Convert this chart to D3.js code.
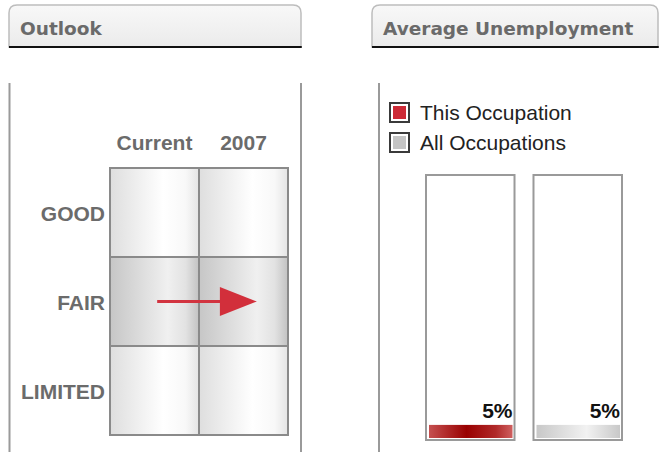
<!DOCTYPE html>
<html>
<head>
<meta charset="utf-8">
<script src="https://cdn.jsdelivr.net/npm/d3@7"></script>
<style>
  body { margin: 0; background: #fff; }
  .tab-title { font-family: "DejaVu Sans", sans-serif; font-weight: bold; font-size: 18.5px; fill: #6a6a6a; }
  .grid-label { font-family: "Liberation Sans", Arial, sans-serif; font-weight: bold; font-size: 21px; fill: #6b6b6b; }
  .legend-label { font-family: "Liberation Sans", Arial, sans-serif; font-size: 21px; fill: #222; }
  .value-label { font-family: "Liberation Sans", Arial, sans-serif; font-weight: bold; font-size: 21px; fill: #111; }
</style>
</head>
<body>
<script>
// Outlook grid
const outlookColumns = ["Current", "2007"];
const outlookRows = ["GOOD", "FAIR", "LIMITED"];
const outlookRatings = ["FAIR", "FAIR"]; // one per column

// Average unemployment
const unemploymentSeries = ["This Occupation", "All Occupations"];
const unemploymentValues = [5, 5];
const unemploymentLabels = ["5%", "5%"];
const unemploymentColors = ["#cc2a36", "#c4c4c4"];

const svg = d3.select('body')
  .append('svg')
  .attr('width', 660)
  .attr('height', 452);

const defs = svg.append('defs');

function addGradient(id, stops, vertical) {
  const grad = defs.append('linearGradient')
    .attr('id', id)
    .attr('x1', 0).attr('y1', 0)
    .attr('x2', vertical ? 0 : 1).attr('y2', vertical ? 1 : 0);
  stops.forEach(s => {
    grad.append('stop').attr('offset', s[0]).attr('stop-color', s[1]);
  });
}

addGradient('tabGrad', [[0, '#f8f8f8'], [1, '#ebebeb']], true);
addGradient('cellGrad', [[0, '#dedede'], [0.6, '#ffffff'], [0.85, '#f8f8f8'], [1, '#e4e4e4']]);
addGradient('cellHiGrad', [[0, '#c6c6c6'], [0.65, '#f0f0f0'], [0.85, '#e2e2e2'], [1, '#c2c2c2']]);
addGradient('fill0', [[0, '#c55050'], [0.45, '#990000'], [0.8, '#b02a2a'], [1, '#cf6060']]);
addGradient('fill1', [[0, '#c8c8c8'], [0.6, '#f2f2f2'], [1, '#c8c8c8']]);

drawTab(9, 301, "Outlook");
drawTab(372, 658, "Average Unemployment");
drawOutlook();
drawUnemployment();

function drawTab(x0, x1, title) {
  const top = 5, bottom = 47, r = 8;
  const path = `M${x0},${bottom} L${x0},${top + r} Q${x0},${top} ${x0 + r},${top} ` +
    `L${x1 - r},${top} Q${x1},${top} ${x1},${top + r} L${x1},${bottom}`;

  svg.append('path')
    .attr('d', path + 'Z')
    .attr('fill', 'url(#tabGrad)')
    .attr('stroke', '#bdbdbd')
    .attr('stroke-width', 1.5);

  svg.append('line')
    .attr('x1', x0).attr('x2', x1 + 0.75)
    .attr('y1', bottom).attr('y2', bottom)
    .attr('stroke', '#111')
    .attr('stroke-width', 2);

  svg.append('text')
    .attr('class', 'tab-title')
    .attr('x', x0 + 11)
    .attr('y', 35)
    .text(title);
}

function drawOutlook() {
  // panel side lines
  [9.5, 301].forEach(x => {
    svg.append('line')
      .attr('x1', x).attr('x2', x)
      .attr('y1', 83).attr('y2', 452)
      .attr('stroke', '#9a9a9a')
      .attr('stroke-width', 2);
  });

  const x = d3.scaleBand()
    .domain(outlookColumns)
    .range([110, 288]);

  const y = d3.scaleBand()
    .domain(outlookRows)
    .range([168, 435]);

  const g = svg.append('g');

  const cells = [];
  outlookColumns.forEach((c, i) => {
    outlookRows.forEach(r => {
      cells.push({ col: c, row: r, hi: outlookRatings[i] == r });
    });
  });

  g.selectAll('rect.cell')
    .data(cells)
    .enter()
    .append('rect')
    .attr('class', 'cell')
    .attr('x', d => x(d.col))
    .attr('y', d => y(d.row))
    .attr('width', x.bandwidth())
    .attr('height', y.bandwidth())
    .attr('fill', d => d.hi ? 'url(#cellHiGrad)' : 'url(#cellGrad)')
    .attr('stroke', '#8a8a8a')
    .attr('stroke-width', 2);

  // column labels
  g.selectAll('text.col')
    .data(outlookColumns)
    .enter()
    .append('text')
    .attr('class', 'grid-label')
    .attr('text-anchor', 'middle')
    .attr('x', d => x(d) + x.bandwidth() / 2)
    .attr('y', 150)
    .text(d => d);

  // row labels
  g.selectAll('text.row')
    .data(outlookRows)
    .enter()
    .append('text')
    .attr('class', 'grid-label')
    .attr('text-anchor', 'end')
    .attr('dominant-baseline', 'central')
    .attr('x', 105)
    .attr('y', d => y(d) + y.bandwidth() / 2 + 1)
    .text(d => d);

  // arrow from current rating to projected rating
  const bw = x.bandwidth();
  const ax0 = x(outlookColumns[0]) + bw * 0.53;
  const ay0 = y(outlookRatings[0]) + y.bandwidth() / 2;
  const ax1 = x(outlookColumns[1]) + bw * 0.65;
  const ay1 = y(outlookRatings[1]) + y.bandwidth() / 2;
  const headLen = 37, headHalf = 14.5;
  const ang = Math.atan2(ay1 - ay0, ax1 - ax0);
  const bx = ax1 - headLen * Math.cos(ang);
  const by = ay1 - headLen * Math.sin(ang);

  g.append('line')
    .attr('x1', ax0).attr('y1', ay0)
    .attr('x2', bx + 2).attr('y2', by)
    .attr('stroke', '#d23440')
    .attr('stroke-width', 3);

  g.append('path')
    .attr('d', `M${ax1},${ay1} L${bx - headHalf * Math.sin(ang)},${by + headHalf * Math.cos(ang)} ` +
      `L${bx + headHalf * Math.sin(ang)},${by - headHalf * Math.cos(ang)} Z`)
    .attr('fill', '#d22f3b');
}

function drawUnemployment() {
  svg.append('line')
    .attr('x1', 379).attr('x2', 379)
    .attr('y1', 83).attr('y2', 452)
    .attr('stroke', '#9a9a9a')
    .attr('stroke-width', 2);

  // legend
  const legend = svg.append('g')
    .selectAll('g')
    .data(unemploymentSeries)
    .enter()
    .append('g')
    .attr('transform', (d, i) => `translate(390, ${103 + i * 30})`);

  legend.append('rect')
    .attr('width', 19)
    .attr('height', 19)
    .attr('fill', '#fff')
    .attr('stroke', '#3a3a3a')
    .attr('stroke-width', 2);

  legend.append('rect')
    .attr('x', 3)
    .attr('y', 3)
    .attr('width', 13)
    .attr('height', 13)
    .attr('fill', (d, i) => unemploymentColors[i]);

  legend.append('text')
    .attr('class', 'legend-label')
    .attr('x', 30)
    .attr('y', 16.5)
    .text(d => d);

  // bars
  const x = d3.scaleBand()
    .domain(unemploymentSeries)
    .range([425, 623])
    .paddingInner(0.158);

  const y = d3.scaleLinear()
    .domain([0, 100])
    .range([438, 176]);

  const bars = svg.append('g')
    .selectAll('g')
    .data(unemploymentSeries)
    .enter()
    .append('g');

  bars.append('rect')
    .attr('x', d => x(d) + 1)
    .attr('y', 175)
    .attr('width', x.bandwidth() - 2)
    .attr('height', 265)
    .attr('fill', '#fff')
    .attr('stroke', '#9a9a9a')
    .attr('stroke-width', 2);

  bars.append('rect')
    .attr('x', d => x(d) + 4)
    .attr('y', (d, i) => y(unemploymentValues[i]))
    .attr('width', x.bandwidth() - 7)
    .attr('height', (d, i) => y(0) - y(unemploymentValues[i]))
    .attr('fill', (d, i) => `url(#fill${i})`);

  bars.append('text')
    .attr('class', 'value-label')
    .attr('text-anchor', 'end')
    .attr('x', d => x(d) + x.bandwidth() - 3)
    .attr('y', (d, i) => y(unemploymentValues[i]) - 7)
    .text((d, i) => unemploymentLabels[i]);
}
</script>
</body>
</html>
